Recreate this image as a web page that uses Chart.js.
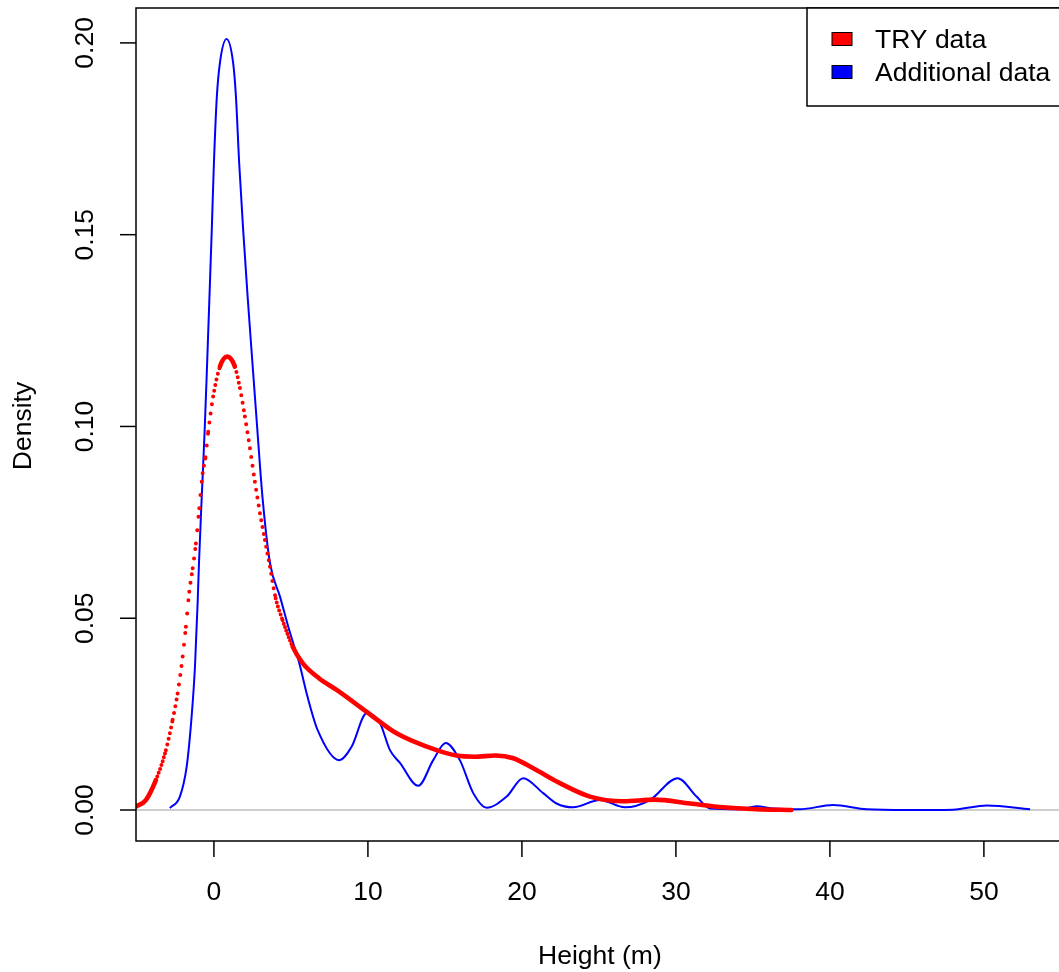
<!DOCTYPE html>
<html>
<head>
<meta charset="utf-8">
<script src="https://cdn.jsdelivr.net/npm/chart.js@4/dist/chart.umd.min.js"></script>
<style>
  html, body { margin: 0; padding: 0; background: #fff; overflow: hidden; }
  #wrap { width: 1100px; height: 972px; }
</style>
</head>
<body>
<div id="wrap"><canvas id="chart" width="1100" height="972"></canvas></div>
<script>
// density estimates
const tryX = [-5.06, -4.42, -3.77, -3.12, -2.68, -2.36, -2.03, -1.82, -1.60, -1.38, -1.17, -0.95, -0.73, -0.55, -0.37, -0.05, 0.39, 0.86, 1.36, 1.69, 2.01, 2.34, 2.66, 2.99, 3.31, 3.64, 4.01, 4.46, 5.11, 5.76, 6.84, 7.97, 9.92, 11.86, 14.46, 15.76, 16.9, 18.3, 19.44, 20.73, 22.47, 24.42, 26.58, 28.6, 30.91, 33.07, 35.24, 37.5];
const tryY = [0.0009, 0.0026, 0.0078, 0.0156, 0.0235, 0.0304, 0.0400, 0.0478, 0.0569, 0.0630, 0.0695, 0.0787, 0.0878, 0.0920, 0.0986, 0.1078, 0.1156, 0.1182, 0.1156, 0.1100, 0.1026, 0.0943, 0.0856, 0.0774, 0.0704, 0.0634, 0.0552, 0.0495, 0.0426, 0.0383, 0.0343, 0.0313, 0.0256, 0.0200, 0.0156, 0.0142, 0.0139, 0.0142, 0.0135, 0.0109, 0.0070, 0.0035, 0.0023, 0.0027, 0.0017, 0.0007, 0.0002, 0.0];

const addX = [-2.86, -2.21, -1.77, -1.45, -1.23, -1.05, -0.97, -0.79, -0.60, -0.44, -0.29, -0.14, 0, 0.19, 0.39, 0.82, 1.25, 1.43, 1.64, 1.90, 2.19, 2.50, 2.82, 3.15, 3.64, 4.30, 4.89, 5.54, 6.08, 6.73, 8.14, 8.94, 9.92, 10.78, 11.43, 12.08, 13.27, 14.24, 15.05, 15.97, 16.84, 17.71, 19.01, 20.08, 21.38, 22.25, 23.33, 25.06, 26.69, 28.31, 30.11, 31.34, 32.21, 34.16, 35.24, 36.32, 38.05, 40.2, 42.4, 45.0, 48.0, 50.2, 53.0];
const addY = [0.0005, 0.0035, 0.0113, 0.0243, 0.0374, 0.0548, 0.0644, 0.0817, 0.0991, 0.1166, 0.1338, 0.1512, 0.1687, 0.1860, 0.1948, 0.2010, 0.1947, 0.1860, 0.1687, 0.1512, 0.1338, 0.1166, 0.0991, 0.0817, 0.0644, 0.0555, 0.0469, 0.0383, 0.0295, 0.0209, 0.0130, 0.0165, 0.0252, 0.0227, 0.0156, 0.0123, 0.0063, 0.0130, 0.0175, 0.0130, 0.0044, 0.0006, 0.0035, 0.0083, 0.0044, 0.0017, 0.0007, 0.0026, 0.0007, 0.0026, 0.0083, 0.0035, 0.0004, 0.0002, 0.0010, 0.0004, 0.0002, 0.0013, 0.0002, 0.0, 0.0001, 0.0012, 0.0002];

const xTicks = [0, 10, 20, 30, 40, 50];
const yTicks = [0, 0.05, 0.10, 0.15, 0.20];
const seriesNames = ['TRY data', 'Additional data'];

const FONT = '26.5px "Liberation Sans", Arial, sans-serif';

// R draws the TRY density as many small points; where the curve is steep they separate
function dotGap(ctx) {
  const dx = Math.abs(ctx.p1.x - ctx.p0.x) || 0.001;
  const len = Math.hypot(ctx.p1.x - ctx.p0.x, ctx.p1.y - ctx.p0.y);
  const s = 1.28 * len / dx;
  return s > 3.4 ? s : 0;
}

const rAxes = {
  id: 'rAxes',
  beforeDatasetsDraw(chart) {
    const { ctx, chartArea: a, scales: { y } } = chart;
    ctx.save();
    ctx.strokeStyle = '#bebebe';
    ctx.lineWidth = 1.5;
    const y0 = y.getPixelForValue(0);
    ctx.beginPath();
    ctx.moveTo(a.left, y0);
    ctx.lineTo(a.right, y0);
    ctx.stroke();
    ctx.restore();
  },
  afterDraw(chart) {
    const { ctx, chartArea: a, scales: { x, y } } = chart;
    ctx.save();
    ctx.strokeStyle = '#000';
    ctx.lineWidth = 1.5;
    ctx.strokeRect(a.left, a.top, a.right - a.left, a.bottom - a.top);

    ctx.fillStyle = '#000';
    ctx.font = FONT;
    ctx.textAlign = 'center';
    ctx.textBaseline = 'middle';
    xTicks.forEach(v => {
      const px = x.getPixelForValue(v);
      ctx.beginPath();
      ctx.moveTo(px, a.bottom);
      ctx.lineTo(px, a.bottom + 16);
      ctx.stroke();
      ctx.fillText(String(v), px, 893);
    });
    yTicks.forEach(v => {
      const py = y.getPixelForValue(v);
      ctx.beginPath();
      ctx.moveTo(a.left, py);
      ctx.lineTo(a.left - 16, py);
      ctx.stroke();
      ctx.save();
      ctx.translate(86, py);
      ctx.rotate(-Math.PI / 2);
      ctx.fillText(v.toFixed(2), 0, 0);
      ctx.restore();
    });
    ctx.fillText('Height (m)', (x.getPixelForValue(0) + x.getPixelForValue(50)) / 2 + 1, 957);
    ctx.save();
    ctx.translate(24, 426);
    ctx.rotate(-Math.PI / 2);
    ctx.fillText('Density', 0, 0);
    ctx.restore();

    // legend
    ctx.fillStyle = '#fff';
    ctx.fillRect(807, a.top, 300, 98);
    ctx.strokeRect(807, a.top, 300, 98);
    ctx.textAlign = 'left';
    chart.data.datasets.forEach((ds, i) => {
      const cy = 39 + i * 33;
      ctx.fillStyle = ds.borderColor;
      ctx.fillRect(832, cy - 6.5, 20, 13);
      ctx.lineWidth = 1;
      ctx.strokeRect(832, cy - 6.5, 20, 13);
      ctx.fillStyle = '#000';
      ctx.fillText(ds.label, 875, cy + 2);
    });
    ctx.restore();
  }
};

new Chart(document.getElementById('chart'), {
  type: 'line',
  data: {
    datasets: [
      {
        label: seriesNames[0],
        data: tryX.map((v, i) => ({ x: v, y: tryY[i] })),
        borderColor: '#ff0000',
        borderWidth: 4.6,
        borderCapStyle: 'round',
        cubicInterpolationMode: 'monotone',
        pointRadius: 0,
        segment: {
          borderDash: ctx => { const g = dotGap(ctx); return g ? [0, g] : []; },
          borderWidth: ctx => dotGap(ctx) ? 4 : 4.6
        }
      },
      {
        label: seriesNames[1],
        data: addX.map((v, i) => ({ x: v, y: addY[i] })),
        borderColor: '#0000ff',
        borderWidth: 2,
        cubicInterpolationMode: 'monotone',
        pointRadius: 0
      }
    ]
  },
  options: {
    responsive: false,
    animation: false,
    layout: { padding: { left: 136, top: 8, right: 10, bottom: 131 } },
    plugins: { legend: { display: false }, tooltip: { enabled: false } },
    scales: {
      x: { type: 'linear', min: -5.06, max: 56.89, display: false },
      y: { min: -0.00808, max: 0.2091, display: false }
    }
  },
  plugins: [rAxes]
});
</script>
</body>
</html>
